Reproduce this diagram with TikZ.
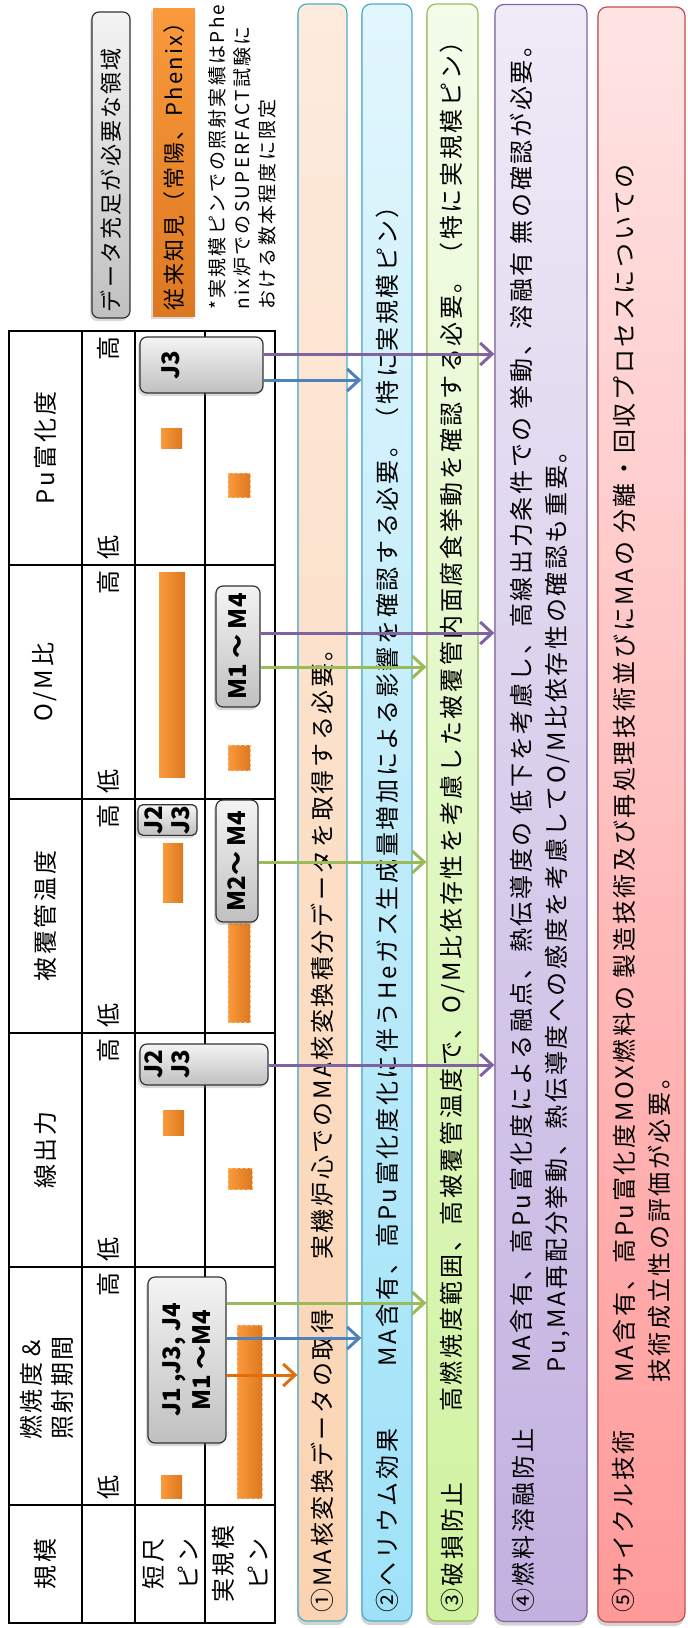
\documentclass[tikz,border=0pt]{standalone}
\usepackage{fontspec}
\setmainfont{Noto Sans CJK JP}
\usetikzlibrary{arrows.meta,shadows}

\definecolor{lnPurple}{HTML}{8064A2}
\definecolor{lnBlue}{HTML}{4F81BD}
\definecolor{lnGreen}{HTML}{9BBB59}
\definecolor{lnOrange}{HTML}{E46C0A}
\definecolor{barLight}{HTML}{FA9A3C}
\definecolor{barDark}{HTML}{DD7820}
\definecolor{boxLight}{HTML}{F4F4F4}
\definecolor{boxDark}{HTML}{C0C0C0}
\definecolor{fillAa}{HTML}{FDEBDD}\definecolor{fillAb}{HTML}{FBD3B2}
\definecolor{fillBa}{HTML}{E2F6FD}\definecolor{fillBb}{HTML}{9FE2F8}
\definecolor{fillCa}{HTML}{F4FCEA}\definecolor{fillCb}{HTML}{D0F39F}
\definecolor{fillDa}{HTML}{EFEBF7}\definecolor{fillDb}{HTML}{C2B0E0}
\definecolor{fillEa}{HTML}{FFE4E4}\definecolor{fillEb}{HTML}{FF9A9A}
\definecolor{edgeTeal}{HTML}{4BACC6}
\definecolor{edgeRed}{HTML}{C0504D}

\newcommand\bodyfont{\fontsize{24}{35}\selectfont\addfontfeature{LetterSpace=11}}
\newcommand\boxfont{\fontsize{24}{27}\selectfont\bfseries}
\newcommand\legendfont{\fontsize{22}{28}\selectfont\addfontfeature{LetterSpace=10}}
\newcommand\notefont{\fontsize{19}{25}\selectfont\addfontfeature{LetterSpace=12}}

\tikzset{
  grid/.style={line width=1.3pt, draw=black},
  vtext/.style={rotate=90, inner sep=0pt, font=\bodyfont},
  bar/.style={left color=barLight, right color=barDark},
  barReal/.style={bar, draw=barLight!70!white, densely dashed, line width=0.6pt},
  jbox/.style={rotate=90, draw=black!80, line width=1.2pt, rounded corners=7pt,
    top color=boxLight, bottom color=boxDark, font=\boxfont, inner sep=2pt,
    drop shadow={shadow xshift=-2pt, shadow yshift=-3pt, opacity=0.3}},
  band/.style={rotate=90, rounded corners=9pt, line width=1.2pt, minimum width=1617pt,
    drop shadow={shadow xshift=-1pt, shadow yshift=-4pt, opacity=0.35}},
  cn/.style={line width=3pt, -{Straight Barb[length=12pt,width=22pt]}},
}

\begin{document}
\begin{tikzpicture}[x=1pt, y=-1pt]
\useasboundingbox (0,0) rectangle (688,1628);

% table
\draw[grid] (9,331) rectangle (275,1623);
\foreach \y in {565,799,1033,1267,1505} \draw[grid] (9,\y) -- (275,\y);
\foreach \x in {82,135,205} \draw[grid] (\x,331) -- (\x,1623);

\node[vtext] (hPu) at (45,448) {Pu富化度};
\node[vtext] (hOM) at (45,682) {O/M比};
\node[vtext] (hClad) at (45,916) {被覆管温度};
\node[vtext] (hLhr) at (45,1150) {線出力};
\node[vtext, align=left] (hBu) at (47,1388) {燃焼度＆\\[-4pt]照射期間};
\node[vtext] (hScale) at (45,1564) {規模};
\foreach \top/\bot [count=\i] in {331/565,565/799,799/1033,1033/1267,1267/1505} {
  \node[vtext] (hi\i) at (108,\top+17) {高};
  \node[vtext] (lo\i) at (108,\bot-18) {低};
}
\node[vtext, align=center] (rShort) at (170,1564) {短尺\\ピン};
\node[vtext, align=center] (rFull) at (240,1564) {実規模\\ピン};

% known data
\fill[bar] (161,428) rectangle (182,448);
\filldraw[barReal] (228,473) rectangle (250,497);
\fill[bar] (159,572) rectangle (185,777);
\filldraw[barReal] (228,745) rectangle (250,770);
\fill[bar] (163,843) rectangle (183,902);
\filldraw[barReal] (228,923) rectangle (250,1022);
\fill[bar] (163,1110) rectangle (184,1135);
\filldraw[barReal] (228,1168) rectangle (252,1189);
\fill[bar] (161,1475) rectangle (182,1498);
\filldraw[barReal] (237,1325) rectangle (262,1498);

% data needed
\node[jbox, minimum width=56pt, minimum height=123pt] (puJ) at (201.5,365) {\raisebox{22pt}[0pt][0pt]{J3}};
\node[jbox, minimum width=121pt, minimum height=44pt] (omM) at (238,646.5) {M1 ～ M4};
\node[jbox, minimum width=30pt, minimum height=59pt, align=center, inner sep=1pt, rounded corners=5pt] (clJ) at (167.5,820) {J2\\J3};
\node[jbox, minimum width=122pt, minimum height=42pt] (clM) at (237,861) {M2～ M4};
\node[jbox, minimum width=41pt, minimum height=128pt] (lhJ) at (204,1064.5) {\raisebox{27pt}[0pt][0pt]{\begin{tabular}{@{}c@{}}J2\\J3\end{tabular}}};
\node[jbox, minimum width=166pt, minimum height=78pt, align=center] (buJ) at (187,1360) {J1 ,J3, J4\\[3pt]M1 ～M4};

% legend
\node[jbox, font=\legendfont, minimum width=306pt, minimum height=38pt, text width=294pt, align=left, inner xsep=6pt] (lgNeed) at (111,165) {データ充足が必要な領域};
\node[rotate=90, top color=barLight, bottom color=barDark, font=\legendfont, minimum width=308pt, minimum height=42pt, text width=296pt, align=left, inner xsep=6pt,
  drop shadow={shadow xshift=-2pt, shadow yshift=-3pt, opacity=0.3}] (lgKnown) at (174,162) {従来知見（常陽、Phenix）};
\node[vtext, font=\notefont, align=left, anchor=west] (lgNote) at (242,310) {*実規模ピンでの照射実績はPhe\\nix炉でのSUPERFACT試験に\\おける数本程度に限定};

% issues
\node[band, draw=edgeTeal, top color=fillAa, bottom color=fillAb, minimum height=49pt] (colA) at (322.5,812.5) {};
\node[band, draw=edgeTeal, top color=fillBa, bottom color=fillBb, minimum height=50pt] (colB) at (387,812.5) {};
\node[band, draw=lnGreen, top color=fillCa, bottom color=fillCb, minimum height=51pt] (colC) at (452.5,812.5) {};
\node[band, draw=lnPurple, top color=fillDa, bottom color=fillDb, minimum height=92pt] (colD) at (541,813) {};
\node[band, draw=edgeRed, top color=fillEa, bottom color=fillEb, minimum height=87pt, minimum width=1615pt] (colE) at (641.5,814.5) {};

\node[vtext, anchor=west] (tA) at (322,1613) {①MA核変換データの取得};
\node[vtext, anchor=west] (dA) at (322,1260) {実機炉心でのMA核変換積分データを取得する必要。};
\node[vtext, anchor=west] (tB) at (387,1613) {②ヘリウム効果};
\node[vtext, anchor=west] (dB) at (387,1367) {MA含有、高Pu富化度化に伴うHeガス生成量増加による影響を確認する必要。（特に実規模ピン）};
\node[vtext, anchor=west] (tC) at (452,1613) {③破損防止};
\node[vtext, anchor=west] (dC) at (452,1412) {高燃焼度範囲、高被覆管温度で、O/M比依存性を考慮した被覆管内面腐食挙動を確認する必要。（特に実規模ピン）};
\node[vtext, anchor=west] (tD) at (523,1613) {④燃料溶融防止};
\node[vtext, anchor=west, align=left] (dD) at (540.5,1373) {MA含有、高Pu富化度による融点、熱伝導度の 低下を考慮し、高線出力条件での 挙動、溶融有 無の確認が必要。\\Pu,MA再配分挙動、熱伝導度への感度を考慮してO/M比依存性の確認も重要。};
\node[vtext, anchor=west] (tE) at (623,1613) {⑤サイクル技術};
\node[vtext, anchor=west, align=left] (dE) at (641.5,1383) {MA含有、高Pu富化度MOX燃料の 製造技術及び再処理技術並びにMAの 分離・回収プロセスについての\\技術成立性の評価が必要。};

% links
\draw[cn, lnPurple] (puJ.south |- 0,354) -- (colD.north |- 0,354);
\draw[cn, lnBlue] (puJ.south |- 0,380) -- (colB.north |- 0,380);
\draw[cn, lnPurple] (omM.south |- 0,633) -- (colD.north |- 0,633);
\draw[cn, lnGreen] (omM.south |- 0,667) -- (colC.north |- 0,667);
\draw[cn, lnGreen] (clM.south |- 0,862) -- (colC.north |- 0,862);
\draw[cn, lnPurple] (lhJ.south |- 0,1065) -- (colD.north |- 0,1065);
\draw[cn, lnGreen] (buJ.south |- 0,1303) -- (colC.north |- 0,1303);
\draw[cn, lnBlue] (buJ.south |- 0,1338) -- (colB.north |- 0,1338);
\draw[cn, lnOrange] (buJ.south |- 0,1375) -- (colA.north |- 0,1375);
\end{tikzpicture}
\end{document}
